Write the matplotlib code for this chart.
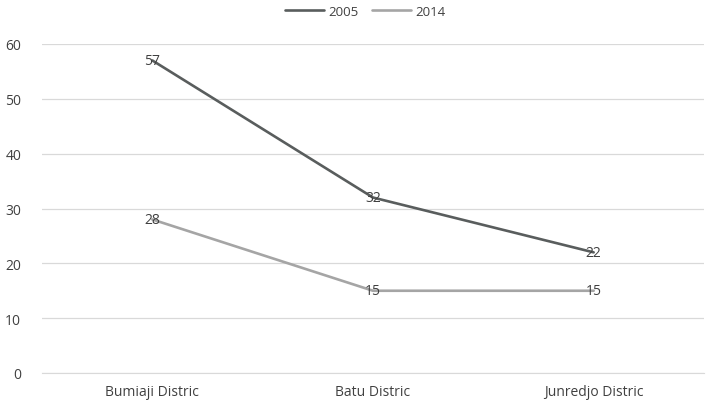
import matplotlib.pyplot as plt

districts = ['Bumiaji Distric', 'Batu Distric', 'Junredjo Distric']
years = ['2005', '2014']
values_2005 = [57, 32, 22]
values_2014 = [28, 15, 15]

plt.rcParams['font.family'] = ['Open Sans', 'DejaVu Sans']
text_color = '#404040'

fig = plt.figure(figsize=(7.06, 4.06), dpi=100)
ax = fig.add_axes([42 / 706, 1 - 374 / 406, 662 / 706, (374 - 45) / 406])

x = range(len(districts))
colors = ['#595d5d', '#a5a5a5']
for name, vals, c in zip(years, [values_2005, values_2014], colors):
    ax.plot(x, vals, color=c, lw=1.9, label=name, solid_capstyle='round')
    for xi, v in zip(x, vals):
        ax.text(xi, v, str(v), ha='center', va='center', fontsize=10, color=text_color)

ax.set_xlim(-0.5, 2.5)
ax.set_ylim(0, 60)
ax.set_yticks(range(0, 61, 10))
ax.set_xticks(list(x))
ax.set_xticklabels(districts)
ax.grid(axis='y', color='#d9d9d9', lw=0.9)
ax.set_axisbelow(True)
for s in ['top', 'right', 'left']:
    ax.spines[s].set_visible(False)
ax.spines['bottom'].set_color('#d9d9d9')
ax.tick_params(axis='both', length=0, labelsize=10, labelcolor=text_color)
ax.tick_params(axis='y', pad=15)
ax.tick_params(axis='x', pad=8)

fig.legend(loc='upper center', bbox_to_anchor=(0.517, 1.015), ncol=2, frameon=False,
           fontsize=9.5, labelcolor=text_color, handlelength=3.0, columnspacing=1.0,
           handletextpad=0.3)

fig.savefig('out.png', dpi=100)
